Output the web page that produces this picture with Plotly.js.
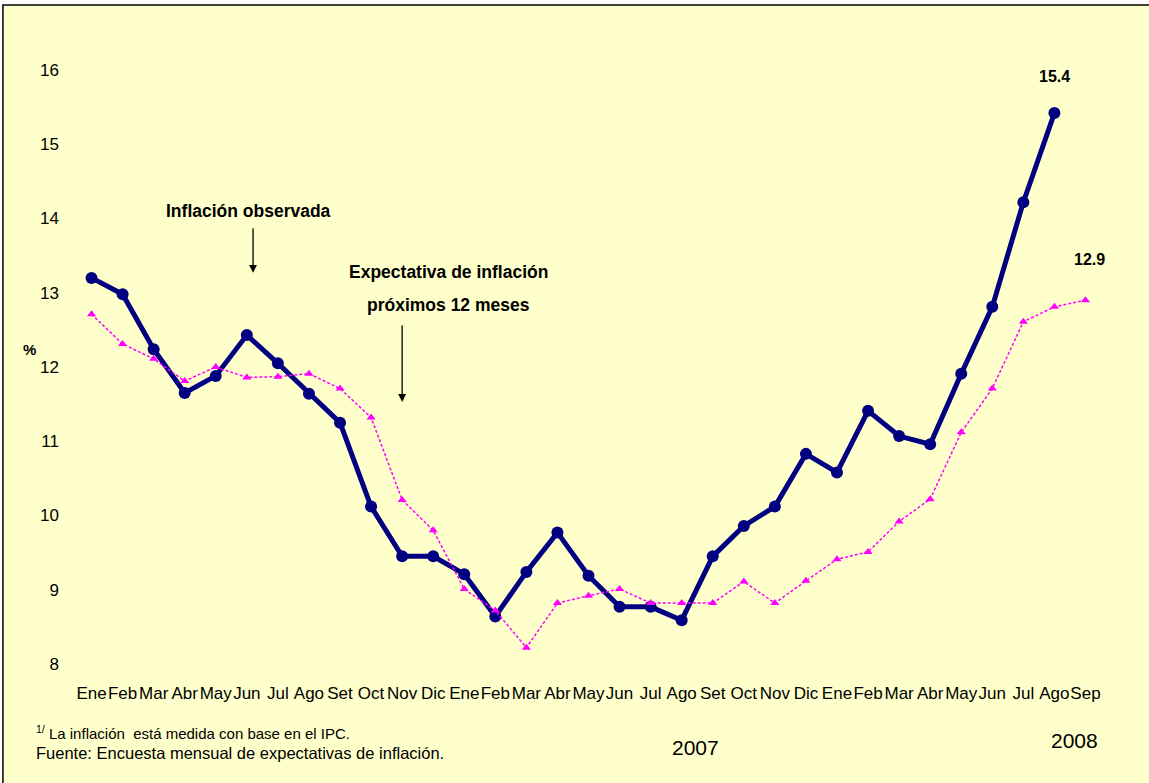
<!DOCTYPE html>
<html>
<head>
<meta charset="utf-8">
<script src="https://cdn.plot.ly/plotly-3.0.1.min.js"></script>
<style>html,body{margin:0;padding:0;background:#fff;}#chart{width:1149px;height:783px;}</style>
</head>
<body>
<div id="chart"></div>
<script>
// Months Ene 2006 .. Sep 2008
const monthLabels = ["Ene","Feb","Mar","Abr","May","Jun","Jul","Ago","Set","Oct","Nov","Dic",
                     "Ene","Feb","Mar","Abr","May","Jun","Jul","Ago","Set","Oct","Nov","Dic",
                     "Ene","Feb","Mar","Abr","May","Jun","Jul","Ago","Sep"];
const monthIndex = monthLabels.map((_, i) => i);

// Inflación observada (Ene 2006 - Ago 2008)
const inflacionObservada = [13.20,12.98,12.24,11.65,11.88,12.43,12.05,11.64,11.25,10.12,9.45,9.45,
                            9.21,8.64,9.24,9.77,9.19,8.77,8.77,8.59,9.45,9.86,10.12,10.83,
                            10.58,11.41,11.07,10.96,11.91,12.81,14.22,15.42];
// Expectativa de inflación próximos 12 meses (Ene 2006 - Sep 2008)
const expectativa = [12.71,12.31,12.11,11.81,12.00,11.86,11.87,11.91,11.71,11.32,10.21,9.80,
                     9.01,8.72,8.22,8.82,8.92,9.01,8.82,8.82,8.82,9.11,8.82,9.12,
                     9.41,9.51,9.92,10.22,11.12,11.71,12.61,12.81,12.90];

const yTicks = [8,9,10,11,12,13,14,15,16];

const FONT = "Liberation Sans, Arial, sans-serif";

const traces = [
  {
    x: monthIndex.slice(0, inflacionObservada.length),
    y: inflacionObservada,
    type: "scatter", mode: "lines+markers",
    line: {color: "#000080", width: 5},
    marker: {symbol: "circle", size: 12, color: "#000080"},
    hoverinfo: "y"
  },
  {
    x: monthIndex.slice(0, expectativa.length),
    y: expectativa,
    type: "scatter", mode: "lines+markers",
    line: {color: "#FF00FF", width: 1.5, dash: "3px,2px"},
    marker: {symbol: "triangle-up", size: 8, color: "#FF00FF"},
    hoverinfo: "y"
  }
];

const lastObs = inflacionObservada.length - 1;
const lastExp = expectativa.length - 1;

const layout = {
  width: 1149, height: 783,
  margin: {l: 76, r: 48, t: 70, b: 119, pad: 0},
  paper_bgcolor: "#ffffff",
  plot_bgcolor: "rgba(0,0,0,0)",
  showlegend: false,
  font: {family: FONT, color: "#000000", size: 16},
  xaxis: {
    range: [-0.5, monthLabels.length - 0.5],
    tickmode: "array", tickvals: monthIndex, ticktext: monthLabels,
    showgrid: false, zeroline: false, showline: false,
    ticks: "", ticklabelstandoff: 17,
    tickfont: {family: FONT, size: 17, color: "#000"},
    tickangle: 0
  },
  yaxis: {
    range: [8, 16],
    tickmode: "array", tickvals: yTicks, ticktext: yTicks.map(String),
    showgrid: false, zeroline: false, showline: false,
    ticks: "", ticklabelstandoff: 16,
    tickfont: {family: FONT, size: 17, color: "#000"}
  },
  shapes: [
    {type: "rect", xref: "paper", yref: "paper", x0: -0.0713, x1: 1.2, y0: -0.4, y1: 1.1095,
     fillcolor: "#FFFFCC", line: {color: "#000000", width: 1.5}, layer: "below"},
  ],
  annotations: [
    {xref: "paper", yref: "paper", x: -0.0455, y: 0.53, text: "<b>%</b>", showarrow: false,
     font: {family: FONT, size: 15}, xanchor: "center", yanchor: "middle"},
    {xref: "x", yref: "y", x: 5.05, y: 14.1, text: "<b>Inflación observada</b>", showarrow: false,
     font: {family: FONT, size: 17.5}, xanchor: "center", yanchor: "middle"},
    {xref: "x", yref: "y", x: 5.2, y: 13.27, ax: 5.2, ay: 13.89, axref: "x", ayref: "y",
     text: "", showarrow: true, arrowhead: 2, arrowsize: 1.2, arrowwidth: 1.3, arrowcolor: "#000"},
    {xref: "x", yref: "y", x: 11.5, y: 13.28, text: "<b>Expectativa de inflación</b>", showarrow: false,
     font: {family: FONT, size: 17.5}, xanchor: "center", yanchor: "middle"},
    {xref: "x", yref: "y", x: 11.5, y: 12.835, text: "<b>próximos 12 meses</b>", showarrow: false,
     font: {family: FONT, size: 17.5}, xanchor: "center", yanchor: "middle"},
    {xref: "x", yref: "y", x: 10.0, y: 11.53, ax: 10.0, ay: 12.58, axref: "x", ayref: "y",
     text: "", showarrow: true, arrowhead: 2, arrowsize: 1.2, arrowwidth: 1.3, arrowcolor: "#000"},
    {xref: "x", yref: "y", x: lastObs, y: inflacionObservada[lastObs], yshift: 37,
     text: "<b>" + inflacionObservada[lastObs].toFixed(1) + "</b>", showarrow: false,
     font: {family: FONT, size: 16}, xanchor: "center", yanchor: "middle"},
    {xref: "x", yref: "y", x: lastExp, y: expectativa[lastExp], yshift: 41, xshift: 4,
     text: "<b>" + expectativa[lastExp].toFixed(1) + "</b>", showarrow: false,
     font: {family: FONT, size: 16}, xanchor: "center", yanchor: "middle"},
    {xref: "paper", yref: "paper", x: 0.604, y: -0.14, text: "2007", showarrow: false,
     font: {family: FONT, size: 21}, xanchor: "center", yanchor: "middle"},
    {xref: "paper", yref: "paper", x: 0.974, y: -0.128, text: "2008", showarrow: false,
     font: {family: FONT, size: 21}, xanchor: "center", yanchor: "middle"},
    {xref: "paper", yref: "paper", x: -0.0410, y: -0.116, text: "<sup>1/</sup> La inflación  está medida con base en el IPC.",
     showarrow: false, font: {family: FONT, size: 15}, xanchor: "left", yanchor: "middle", align: "left"},
    {xref: "paper", yref: "paper", x: -0.0410, y: -0.150, text: "Fuente: Encuesta mensual de expectativas de inflación.",
     showarrow: false, font: {family: FONT, size: 16.5}, xanchor: "left", yanchor: "middle", align: "left"}
  ]
};

Plotly.newPlot("chart", traces, layout, {displayModeBar: false, staticPlot: true});
</script>
</body>
</html>
